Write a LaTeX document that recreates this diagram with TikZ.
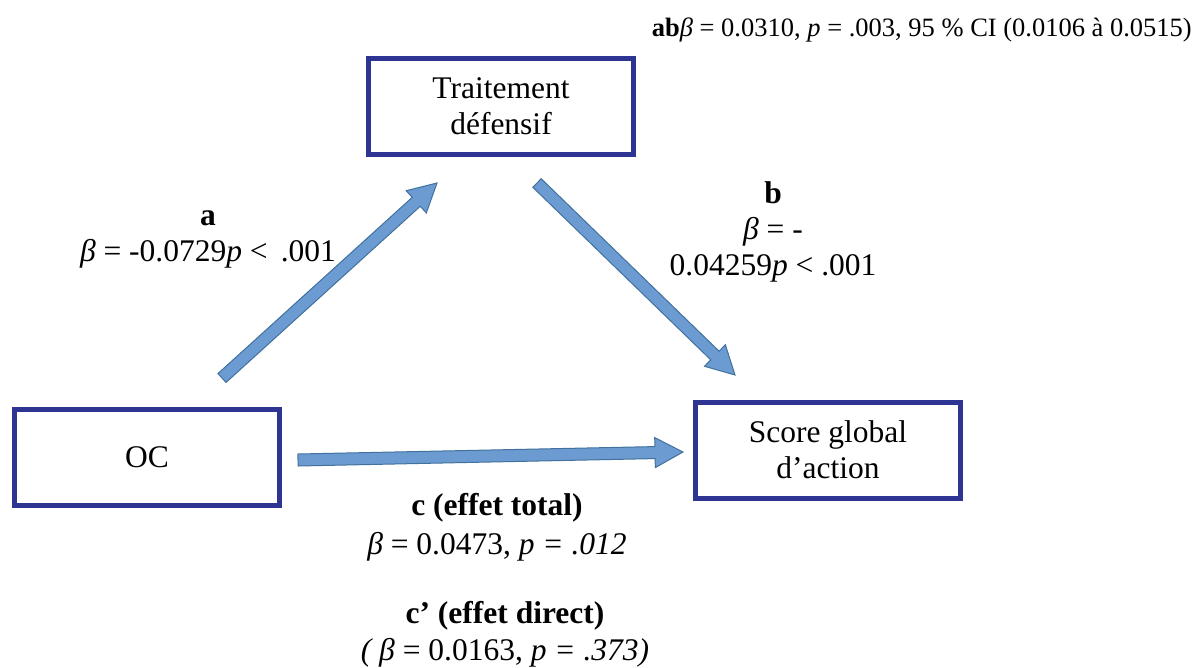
\documentclass[tikz,border=0pt]{standalone}
\usepackage{fontspec}
\setmainfont{Liberation Serif}
\usetikzlibrary{calc}
\definecolor{boxblue}{RGB}{46,52,146}
\definecolor{arrowfill}{RGB}{108,155,210}
\definecolor{arrowline}{RGB}{65,113,156}

\newcommand{\blkarrow}[2]{%
  \coordinate (hb) at ($(#2)!28pt!(#1)$);
  \filldraw[blockarrow] ($(#1)!6pt!90:(#2)$) -- ($(hb)!6pt!90:(#2)$) -- ($(hb)!15pt!90:(#2)$) -- (#2)
    -- ($(hb)!15pt!-90:(#2)$) -- ($(hb)!6pt!-90:(#2)$) -- ($(#1)!6pt!-90:(#2)$) -- cycle;}

\begin{document}
\begin{tikzpicture}[x=1pt,y=-1pt,
    varbox/.style={draw=boxblue, line width=5pt, minimum width=265pt, minimum height=96pt, align=center, font=\fontsize{31.5}{36}\selectfont},
    coef/.style={align=center, font=\fontsize{31.5}{36}\selectfont, inner sep=0pt},
    blockarrow/.style={fill=arrowfill, draw=arrowline, line width=1pt}]
  \useasboundingbox (0,0) rectangle (1196,667);
  \node[varbox] (trait) at (501,106) {Traitement\\défensif};
  \node[varbox] (oc) at (147,457) {OC};
  \node[varbox] (score) at (828,450) {Score global\\d’action};
  % arrow ends
  \coordinate (a1) at (222,378); \coordinate (a2) at (437,183);
  \coordinate (b1) at (537,183); \coordinate (b2) at (735,375);
  \coordinate (c1) at (298,460); \coordinate (c2) at (683,452);
  \blkarrow{a1}{a2}
  \blkarrow{b1}{b2}
  \blkarrow{c1}{c2}
  \node[coef] (la) at (208,239) {\textbf{a}\\\textit{β} = -0.0729\textit{p} <\, .001};
  \node[coef] (lb) at (773,232) {\textbf{b}\\\textit{β} = -\\0.04259\textit{p} < .001};
  \node[coef, font=\fontsize{31.5}{39}\selectfont] (lc) at (497,527) {\textbf{c (effet total)}\\\textit{β} = 0.0473, \textit{p = .012}};
  \node[coef, font=\fontsize{31.5}{37}\selectfont] (lcp) at (505,634) {\textbf{c’ (effet direct)}\\\textit{( β} = 0.0163, \textit{p = .373)}};
  \node[coef, anchor=east, font=\fontsize{26.5}{30}\selectfont] (lab) at (1192,30) {\textbf{ab}\textit{β} = 0.0310, \textit{p} = .003, 95 \% CI (0.0106 à 0.0515)};
\end{tikzpicture}
\end{document}
